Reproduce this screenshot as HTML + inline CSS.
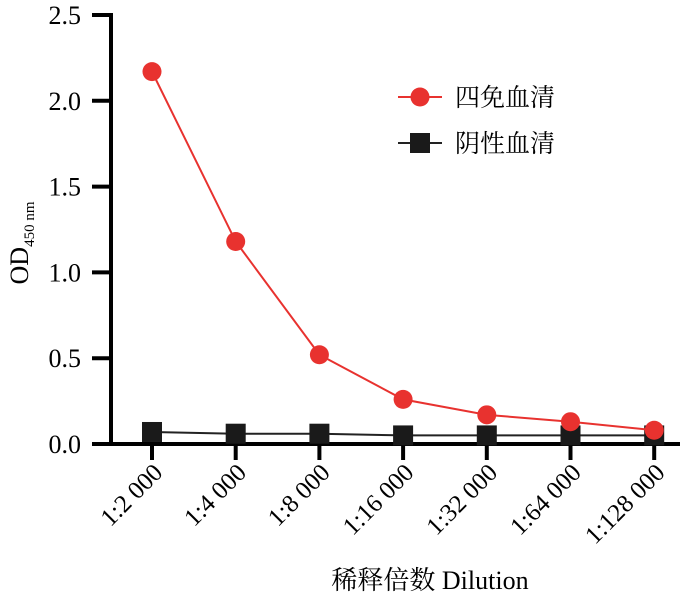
<!DOCTYPE html>
<html><head><meta charset="utf-8"><style>
html,body{margin:0;padding:0;background:#fff;}
svg{display:block;font-family:"Liberation Serif","Noto Serif CJK SC",serif;}
</style></head><body>
<svg id="chart" width="700" height="594" viewBox="0 0 700 594"></svg>
<script>
const categories=["1:2 000","1:4 000","1:8 000","1:16 000","1:32 000","1:64 000","1:128 000"];
const redValues=[2.17,1.18,0.52,0.26,0.17,0.13,0.08];
const blackValues=[0.07,0.06,0.06,0.05,0.05,0.05,0.05];
const yTicks=[0,0.5,1.0,1.5,2.0,2.5];
const yTickLabels=["0.0","0.5","1.0","1.5","2.0","2.5"];
const NS="http://www.w3.org/2000/svg";
const svg=document.getElementById('chart');
const x0=152,dx=83.7,y0=444,yTop=15;
const xs=i=>x0+i*dx;
const ys=v=>y0-(v/2.5)*(y0-yTop);
function el(t,a,p){const e=document.createElementNS(NS,t);for(const k in a)e.setAttribute(k,a[k]);(p||svg).appendChild(e);return e;}
const ax=el('line',{x1:111,y1:yTop-2,x2:111,y2:y0+2,stroke:'#000','stroke-width':4});


const bx=el('line',{x1:92,y1:y0,x2:680,y2:y0,stroke:'#000','stroke-width':4});


yTicks.forEach((v,i)=>{
 const t=el('line',{x1:92,y1:ys(v),x2:111,y2:ys(v),stroke:'#000','stroke-width':4});
 
 
 const l=el('text',{x:81,y:ys(v)+9,'text-anchor':'end','font-size':26});
 l.textContent=yTickLabels[i];
 
 
});
categories.forEach((c,i)=>{
 const t=el('line',{x1:xs(i),y1:y0,x2:xs(i),y2:y0+16,stroke:'#000','stroke-width':4});
 
 
 const l=el('text',{x:xs(i)+12,y:y0+30,'text-anchor':'end','font-size':25,transform:`rotate(-45 ${xs(i)+12} ${y0+30})`});
 l.textContent=c;
 
 
});
const bl=el('polyline',{points:blackValues.map((v,i)=>xs(i)+','+ys(v)).join(' '),fill:'none',stroke:'#222','stroke-width':2});


blackValues.forEach((v,i)=>{
 const r=el('rect',{x:xs(i)-10,y:ys(v)-10,width:20,height:20,fill:'#1a1a1a'});
 
 
});
const rl=el('polyline',{points:redValues.map((v,i)=>xs(i)+','+ys(v)).join(' '),fill:'none',stroke:'#e8322f','stroke-width':2});


redValues.forEach((v,i)=>{
 const c=el('circle',{cx:xs(i),cy:ys(v),r:9.5,fill:'#e8322f'});
 
 
});
const lg=el('g',{});


el('line',{x1:398,y1:97,x2:442,y2:97,stroke:'#e8322f','stroke-width':2},lg);
el('circle',{cx:420,cy:97,r:9.5,fill:'#e8322f'},lg);
const t1=el('text',{x:455,y:106,'font-size':25},lg);t1.textContent='四免血清';


el('line',{x1:398,y1:143,x2:442,y2:143,stroke:'#222','stroke-width':2},lg);
el('rect',{x:410,y:133,width:20,height:20,fill:'#1a1a1a'},lg);
const t2=el('text',{x:455,y:152,'font-size':25},lg);t2.textContent='阴性血清';


const yt=el('text',{x:0,y:0,'font-size':26,'text-anchor':'middle',transform:'translate(28 243) rotate(-90)'});
yt.innerHTML='OD<tspan font-size="15" dy="6">450 nm</tspan>';


const xt=el('text',{x:430,y:589,'font-size':26,'text-anchor':'middle'});
xt.textContent='稀释倍数 Dilution';


</script>
</body></html>
